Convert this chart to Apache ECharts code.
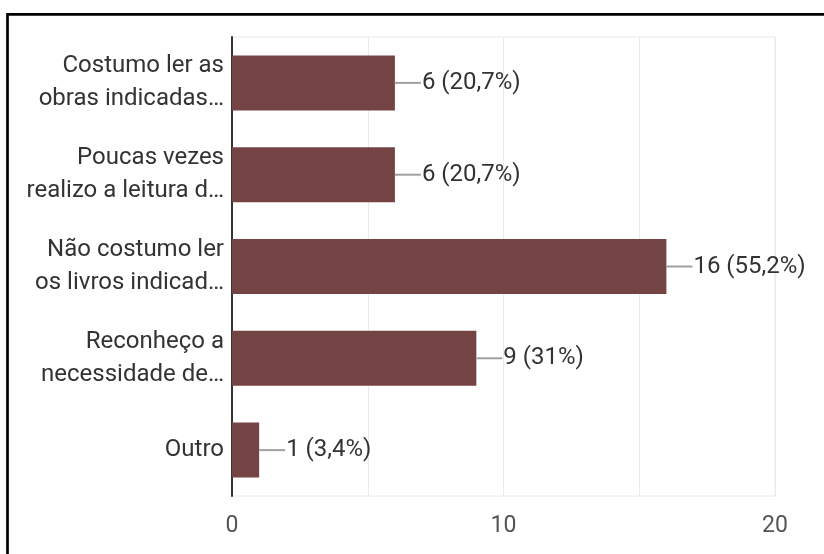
<!DOCTYPE html>
<html>
<head>
<meta charset="utf-8">
<script src="https://cdn.jsdelivr.net/npm/echarts@6/dist/echarts.min.js"></script>
<style>html,body{margin:0;padding:0;background:#fff}#c{width:824px;height:554px}</style>
</head>
<body>
<div id="c"></div>
<script>
const categories = [
  "Costumo ler as\nobras indicadas…",
  "Poucas vezes\nrealizo a leitura d…",
  "Não costumo ler\nos livros indicad…",
  "Reconheço a\nnecessidade de…",
  "Outro"
];
const values = [6, 6, 16, 9, 1];
const valueLabels = ["6 (20,7%)", "6 (20,7%)", "16 (55,2%)", "9 (31%)", "1 (3,4%)"];
const xTicks = [0, 10, 20];

const chart = echarts.init(document.getElementById('c'));
chart.setOption({
  animation: false,
  backgroundColor: '#fff',
  textStyle: { fontFamily: 'Roboto' },
  graphic: [{
    type: 'rect',
    shape: { x: 7.5, y: 14.3, width: 900, height: 700 },
    style: { fill: 'none', stroke: '#000', lineWidth: 2.7 },
    silent: true
  }],
  grid: { left: 232, right: 49, top: 37, bottom: 58, show: true, borderColor: '#e8e8e8', borderWidth: 1 },
  xAxis: {
    type: 'value', min: 0, max: 20, interval: 5,
    axisLine: { show: false }, axisTick: { show: false },
    splitLine: { show: true, lineStyle: { color: '#ebebeb', width: 1 } },
    axisLabel: {
      fontFamily: 'Roboto', fontSize: 23, color: '#555', margin: 19,
      formatter: v => xTicks.indexOf(v) >= 0 ? String(v) : ''
    }
  },
  yAxis: {
    type: 'category', data: categories, inverse: true,
    axisLine: { show: true, lineStyle: { color: '#333', width: 2 } },
    axisTick: { show: false },
    splitLine: { show: false },
    axisLabel: { fontFamily: 'Roboto', fontSize: 24, lineHeight: 33, color: '#333', margin: 8, padding: [5, 0, 0, 0] }
  },
  series: [{
    type: 'bar', data: values, barWidth: 55,
    itemStyle: { color: '#744444' },
    label: {
      show: true, position: 'right', distance: 0,
      formatter: p => '{l| }{t|' + valueLabels[p.dataIndex] + '}',
      rich: {
        l: { width: 26, height: 2, lineHeight: 2, fontSize: 2, backgroundColor: '#a0a0a0' },
        t: { fontFamily: 'Roboto', fontSize: 24, color: '#333', padding: [0, 0, 0, 1] }
      }
    }
  }]
});
</script>
</body>
</html>
